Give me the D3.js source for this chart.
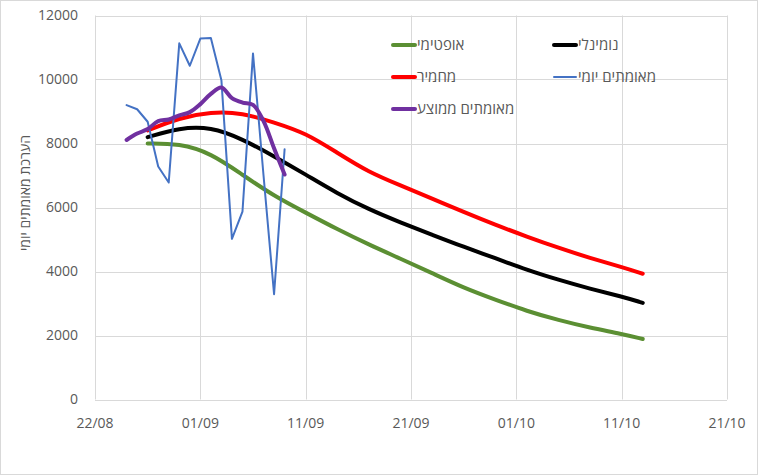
<!DOCTYPE html>
<html>
<head>
<meta charset="utf-8">
<script src="https://cdn.jsdelivr.net/npm/d3@7"></script>
<style>
  body { margin: 0; background: #fff; }
  svg { display: block; font-family: "Open Sans", "DejaVu Sans", sans-serif; }
</style>
</head>
<body>
<svg id="chart" width="758" height="475"></svg>
<script>
'use strict';

// daily confirmed cases and 7-day average (25/08 - 09/09)
var dailyDates = ['2020-08-25', '2020-08-26', '2020-08-27', '2020-08-28', '2020-08-29', '2020-08-30',
  '2020-08-31', '2020-09-01', '2020-09-02', '2020-09-03', '2020-09-04', '2020-09-05',
  '2020-09-06', '2020-09-07', '2020-09-08', '2020-09-09'];
var dailyCases = [9200, 9070, 8680, 7280, 6780, 11130, 10430, 11280, 11300, 9980, 5020, 5870,
  10810, 7000, 3290, 7820];
var avgCases = [8110, 8310, 8450, 8700, 8750, 8880, 8980, 9230, 9550, 9750, 9420, 9280,
  9210, 8700, 7850, 7030];

// model scenarios
var modelDates = ['2020-08-27', '2020-08-30', '2020-09-02', '2020-09-05', '2020-09-08', '2020-09-11',
  '2020-09-14', '2020-09-17', '2020-09-20', '2020-09-23', '2020-09-26', '2020-09-29',
  '2020-10-02', '2020-10-05', '2020-10-08', '2020-10-11', '2020-10-13'];
var optimistic = [8000, 8000, 7700, 7020, 6360, 5840, 5320, 4840, 4400, 3950, 3490, 3120,
  2760, 2480, 2240, 2050, 1890];
var nominal = [8200, 8490, 8520, 8140, 7600, 7030, 6440, 5940, 5530, 5150, 4770, 4420,
  4050, 3740, 3460, 3220, 3020];
var severe = [8410, 8800, 8990, 8960, 8660, 8330, 7710, 7100, 6690, 6280, 5860, 5460,
  5090, 4740, 4420, 4140, 3930];

var xTicks = ['2020-08-22', '2020-09-01', '2020-09-11', '2020-09-21', '2020-10-01', '2020-10-11', '2020-10-21'];
var yTicks = [0, 2000, 4000, 6000, 8000, 10000, 12000];
var yTitle = 'הערכת מאומתים יומי';

var parse = d3.utcParse('%Y-%m-%d');
var fmt = d3.utcFormat('%d/%m');

var x = d3.scaleUtc()
  .domain([parse(xTicks[0]), parse(xTicks[xTicks.length - 1])])
  .range([95, 727]);
var y = d3.scaleLinear()
  .domain([0, 12000])
  .range([399.5, 15.5]);

var svg = d3.select('#chart');
var textColor = '#595959';
var gridColor = '#d9d9d9';

svg.append('rect')
  .attr('x', 0.5).attr('y', 0.5)
  .attr('width', 757).attr('height', 474)
  .attr('fill', '#fff')
  .attr('stroke', gridColor);

// grid
svg.append('g').selectAll('line')
  .data(yTicks)
  .enter()
  .append('line')
  .attr('x1', x.range()[0])
  .attr('x2', x.range()[1])
  .attr('y1', function(d) { return Math.round(y(d)) + 0.5; })
  .attr('y2', function(d) { return Math.round(y(d)) + 0.5; })
  .attr('stroke', gridColor);

svg.append('g').selectAll('line')
  .data(xTicks)
  .enter()
  .append('line')
  .attr('x1', function(d) { return Math.round(x(parse(d))) + 0.5; })
  .attr('x2', function(d) { return Math.round(x(parse(d))) + 0.5; })
  .attr('y1', y(12000))
  .attr('y2', y(0))
  .attr('stroke', gridColor);

// tick labels
svg.append('g').selectAll('text')
  .data(yTicks)
  .enter()
  .append('text')
  .attr('x', 78)
  .attr('y', function(d) { return y(d); })
  .attr('dy', '0.35em')
  .attr('text-anchor', 'end')
  .attr('font-size', 14)
  .attr('fill', textColor)
  .text(function(d) { return d; });

svg.append('g').selectAll('text')
  .data(xTicks)
  .enter()
  .append('text')
  .attr('x', function(d) { return x(parse(d)); })
  .attr('y', 428)
  .attr('text-anchor', 'middle')
  .attr('font-size', 14)
  .attr('fill', textColor)
  .text(function(d) { return fmt(parse(d)); });

svg.append('text')
  .attr('transform', 'translate(30,193) rotate(-90)')
  .attr('text-anchor', 'middle')
  .attr('font-size', 14)
  .attr('fill', textColor)
  .text(yTitle);

// series
var series = [
  { name: 'אופטימי', dates: modelDates, values: optimistic, color: '#5b8f33', width: 4, curve: d3.curveBasis },
  { name: 'נומינלי', dates: modelDates, values: nominal, color: '#000000', width: 4, curve: d3.curveBasis },
  { name: 'מחמיר', dates: modelDates, values: severe, color: '#ff0000', width: 4, curve: d3.curveBasis },
  { name: 'מאומתים יומי', dates: dailyDates, values: dailyCases, color: '#4472c4', width: 2, curve: d3.curveLinear },
  { name: 'מאומתים ממוצע', dates: dailyDates, values: avgCases, color: '#7030a0', width: 4, curve: d3.curveCatmullRom }
];

series.forEach(function(s) {
  var pts = s.dates.map(function(d, i) { return [parse(d), s.values[i]]; });
  var line = d3.line()
    .x(function(p) { return x(p[0]); })
    .y(function(p) { return y(p[1]); })
    .curve(s.curve);
  svg.append('path')
    .datum(pts)
    .attr('d', line)
    .attr('fill', 'none')
    .attr('stroke', s.color)
    .attr('stroke-width', s.width)
    .attr('stroke-linejoin', 'round')
    .attr('stroke-linecap', 'round');
});

// legend
var legendPos = [[393, 45], [554, 45], [393, 77], [554, 77], [393, 109]];
var $legend = svg.append('g').selectAll('g')
  .data(series)
  .enter()
  .append('g')
  .attr('transform', function(d, i) { return 'translate(' + legendPos[i][0] + ',' + legendPos[i][1] + ')'; });
$legend.append('line')
  .attr('x1', 0).attr('x2', 22)
  .attr('y1', 0).attr('y2', 0)
  .attr('stroke', function(d) { return d.color; })
  .attr('stroke-width', function(d) { return d.width; })
  .attr('stroke-linecap', 'round');
$legend.append('text')
  .attr('x', 24)
  .attr('dy', '0.35em')
  .attr('font-size', 15)
  .attr('fill', textColor)
  .text(function(d) { return d.name; });
</script>
</body>
</html>
